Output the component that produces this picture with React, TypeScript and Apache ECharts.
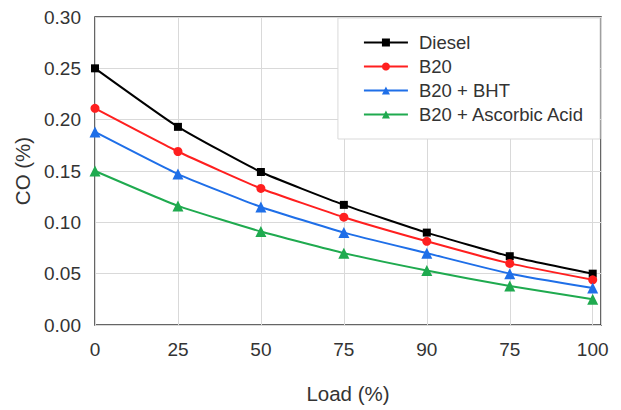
import React, { useEffect, useRef } from "react";
import * as echarts from "echarts";

const categories = ["0", "25", "50", "75", "90", "75", "100"];
const diesel = [0.25, 0.193, 0.149, 0.117, 0.09, 0.067, 0.05];
const b20 = [0.211, 0.169, 0.133, 0.105, 0.0815, 0.06, 0.044];
const b20Bht = [0.188, 0.147, 0.115, 0.09, 0.07, 0.05, 0.036];
const b20Ascorbic = [0.15, 0.116, 0.091, 0.07, 0.053, 0.038, 0.025];
const yTicks = { min: 0, max: 0.3, interval: 0.05 };

const FONT = "Liberation Sans, Arial, sans-serif";
const TEXT = "#333333";

export default function App() {
  const ref = useRef<HTMLDivElement>(null);
  useEffect(() => {
    if (!ref.current) return;
    const chart = echarts.init(ref.current, undefined, { renderer: "svg" });
    const mk = (name: string, vals: number[], color: string, symbol: string, size: number) => ({
      name,
      type: "line",
      data: vals.map((v, i) => [i, v]),
      smooth: 0.15,
      symbol,
      symbolSize: size,
      showAllSymbol: true,
      clip: false,
      lineStyle: { color, width: 2 },
      itemStyle: { color },
    });
    chart.setOption({
      animation: false,
      backgroundColor: "#ffffff",
      textStyle: { fontFamily: FONT },
      grid: {
        left: 95,
        right: 20,
        top: 17,
        bottom: 85,
        show: true,
        borderColor: "#333333",
        borderWidth: 1.5,
        backgroundColor: "transparent",
      },
      legend: {
        orient: "vertical",
        right: 21,
        top: 18,
        padding: [15, 15, 15, 25],
        backgroundColor: "#ffffff",
        borderColor: "#d9d9d9",
        borderWidth: 1,
        itemWidth: 44,
        itemHeight: 10,
        itemGap: 5,
        textStyle: { fontSize: 18.5, lineHeight: 19, color: TEXT, fontFamily: FONT, padding: [0, 0, 0, 6] },
        data: ["Diesel", "B20", "B20 + BHT", "B20 + Ascorbic Acid"],
      },
      xAxis: {
        type: "value",
        min: 0,
        max: 6.1,
        interval: 1,
        name: "Load (%)",
        nameLocation: "middle",
        nameGap: 58,
        nameTextStyle: { fontSize: 20.5, color: TEXT, fontFamily: FONT },
        axisLine: { show: false },
        axisTick: { show: false },
        axisLabel: {
          fontSize: 19,
          color: TEXT,
          margin: 15,
          fontFamily: FONT,
          showMaxLabel: false,
          formatter: (v: number) => (Number.isInteger(v) ? categories[v] ?? "" : ""),
        },
        splitLine: { show: true, lineStyle: { color: "#d9d9d9", width: 1 } },
      },
      yAxis: {
        type: "value",
        min: yTicks.min,
        max: yTicks.max,
        interval: yTicks.interval,
        name: "CO (%)",
        nameLocation: "middle",
        nameGap: 60,
        nameTextStyle: { fontSize: 20.5, color: TEXT, fontFamily: FONT },
        axisLine: { show: false },
        axisTick: { show: false },
        axisLabel: {
          fontSize: 19,
          color: TEXT,
          margin: 14,
          fontFamily: FONT,
          formatter: (v: number) => v.toFixed(2),
        },
        splitLine: { show: true, lineStyle: { color: "#d9d9d9", width: 1 } },
      },
      series: [
        mk("Diesel", diesel, "#000000", "rect", 8),
        mk("B20", b20, "#ff1f1f", "circle", 9),
        mk("B20 + BHT", b20Bht, "#1f6fe8", "triangle", 11),
        mk("B20 + Ascorbic Acid", b20Ascorbic, "#1faa4f", "triangle", 11),
      ],
    });
    return () => chart.dispose();
  }, []);
  return (
    <div
      ref={ref}
      style={{ width: 621, height: 410, position: "absolute", left: 0, top: 0 }}
    />
  );
}
